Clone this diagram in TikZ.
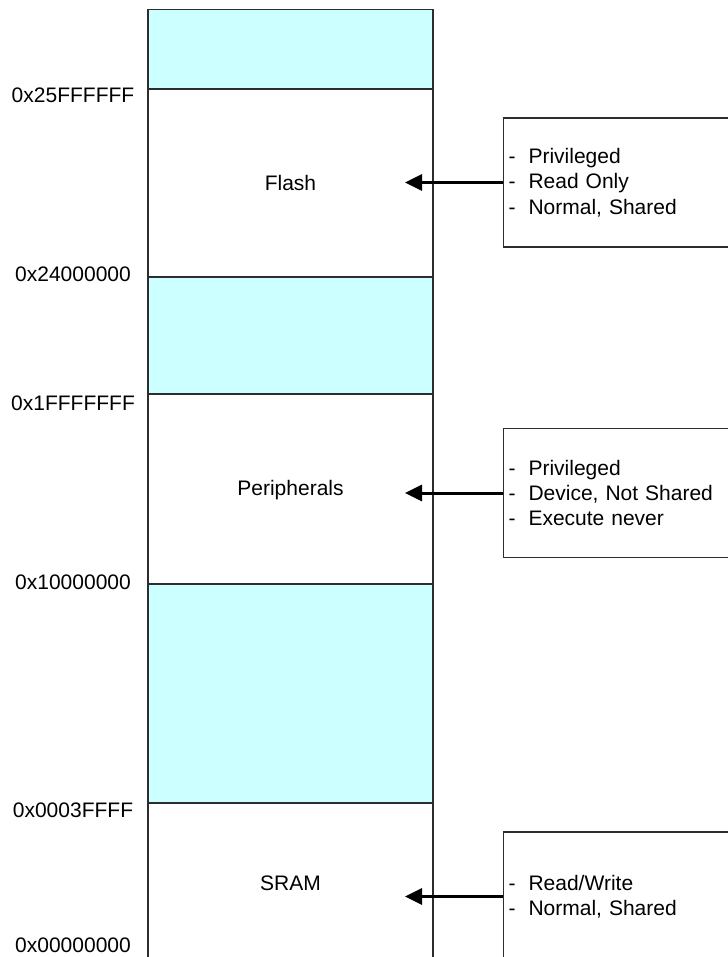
\documentclass[tikz,border=0pt]{standalone}
\usepackage{fontspec}
\setmainfont{Liberation Sans}
\usepackage{tikz}
\usetikzlibrary{arrows.meta, positioning}
\definecolor{memcyan}{RGB}{204,255,255}
\definecolor{memline}{RGB}{45,45,45}
\newcommand{\attrdash}{\makebox[15pt][l]{-}}

\begin{document}
\begin{tikzpicture}[
  x=0.75pt, y=-0.75pt,
  every node/.style={font=\fontsize{15.75}{19.1}\selectfont, inner sep=0pt},
  gap/.style={draw=memline, fill=memcyan, line width=0.8pt},
  attr/.style={draw=memline, line width=0.8pt, anchor=west, align=left,
               text width=166.5pt, inner xsep=3.75pt, minimum height=96.75pt},
  acc/.style={-{Triangle[length=12.75pt, width=12pt]}, line width=2.25pt}
]
\useasboundingbox (0,0) rectangle (728,957);
\draw[gap] (148,9.3) rectangle (433,89);
\draw[gap] (148,277) rectangle (433,394);
\draw[gap] (148,584) rectangle (433,803);
\draw[memline, line width=0.8pt] (148,960) -- (148,9.3) -- (433,9.3) -- (433,960);
\node (flash) at (290.5,183) {Flash};
\node (periph) at (290.5,490) {Peripherals};
\node (sram) at (290.5,883) {SRAM};
\node (a25ff) at (73,95)  {0x25FFFFFF};
\node (a2400) at (73,274) {0x24000000};
\node (a1fff) at (73,403) {0x1FFFFFFF};
\node (a1000) at (73,582) {0x10000000};
\node (a0003) at (73,810) {0x0003FFFF};
\node (a0000) at (73,945) {0x00000000};
\node[attr] (flashattr) at (503,182.5)
  {\attrdash Privileged\\ \attrdash Read Only\\ \attrdash Normal, Shared};
\node[attr] (periphattr) at (503,493)
  {\attrdash Privileged\\ \attrdash Device, Not Shared\\ \attrdash Execute never};
\node[attr] (sramattr) at (503,896.5)
  {\attrdash Read/Write\\ \attrdash Normal, Shared};
\coordinate (flashtip) at (405,182.5);
\coordinate (periphtip) at (405,493);
\coordinate (sramtip) at (405,896.5);
\draw[acc] (flashattr.west) -- (flashtip);
\draw[acc] (periphattr.west) -- (periphtip);
\draw[acc] (sramattr.west) -- (sramtip);
\end{tikzpicture}
\end{document}
